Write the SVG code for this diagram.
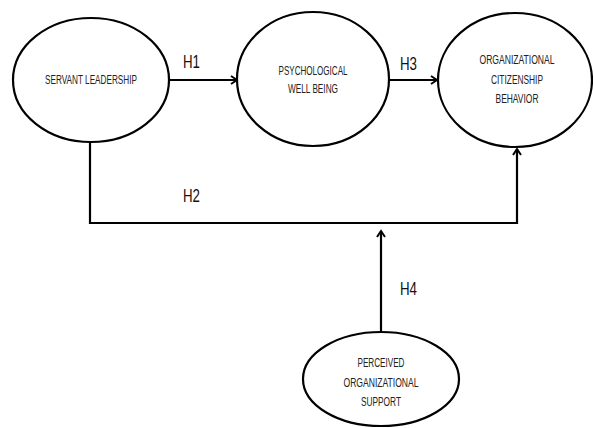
<svg xmlns="http://www.w3.org/2000/svg" width="593" height="428" viewBox="0 0 593 428">
<style>
.node ellipse{fill:#fff;stroke:#000;stroke-width:2.2}
.lbl{font-family:"Liberation Sans",Arial,sans-serif;font-size:12px;fill:#222;text-anchor:middle}
.h{font-family:"Liberation Sans",Arial,sans-serif;font-size:18px;fill:#111}
.conn{fill:none;stroke:#000;stroke-width:2.2}
</style>
<defs>
<marker id="arr" markerWidth="10" markerHeight="10" refX="8" refY="5" orient="auto" markerUnits="userSpaceOnUse">
<path d="M2,1 L8,5 L2,9" fill="none" stroke="#000" stroke-width="2"/>
</marker>
</defs>
<rect width="593" height="428" fill="#fff"/>
<g id="connectors">
<line class="conn" x1="169" y1="80" x2="237" y2="80" marker-end="url(#arr)"/>
<line class="conn" x1="389" y1="80" x2="437" y2="80" marker-end="url(#arr)"/>
<polyline class="conn" points="90,142 90,223 517,223 517,149" marker-end="url(#arr)"/>
<line class="conn" x1="381" y1="332" x2="381" y2="231" marker-end="url(#arr)"/>
<text class="h" x="183" y="68" textLength="17" lengthAdjust="spacingAndGlyphs">H1</text>
<text class="h" x="400" y="70" textLength="17" lengthAdjust="spacingAndGlyphs">H3</text>
<text class="h" x="183" y="202" textLength="17" lengthAdjust="spacingAndGlyphs">H2</text>
<text class="h" x="400" y="295" textLength="17" lengthAdjust="spacingAndGlyphs">H4</text>
</g>
<g id="servant-leadership" class="node">
<ellipse cx="91" cy="80" rx="78" ry="62"/>
<text class="lbl" x="91" y="84" textLength="92" lengthAdjust="spacingAndGlyphs">SERVANT LEADERSHIP</text>
</g>
<g id="psychological-well-being" class="node">
<ellipse cx="313" cy="79" rx="76" ry="67"/>
<text class="lbl" x="313" y="75" textLength="69" lengthAdjust="spacingAndGlyphs">PSYCHOLOGICAL</text>
<text class="lbl" x="313" y="93" textLength="50" lengthAdjust="spacingAndGlyphs">WELL BEING</text>
</g>
<g id="organizational-citizenship-behavior" class="node">
<ellipse cx="515" cy="80" rx="77" ry="67"/>
<text class="lbl" x="517" y="64" textLength="75" lengthAdjust="spacingAndGlyphs">ORGANIZATIONAL</text>
<text class="lbl" x="517" y="84" textLength="52" lengthAdjust="spacingAndGlyphs">CITIZENSHIP</text>
<text class="lbl" x="517" y="103" textLength="43" lengthAdjust="spacingAndGlyphs">BEHAVIOR</text>
</g>
<g id="perceived-organizational-support" class="node">
<ellipse cx="381" cy="379" rx="78" ry="47"/>
<text class="lbl" x="381" y="367" textLength="47" lengthAdjust="spacingAndGlyphs">PERCEIVED</text>
<text class="lbl" x="381" y="387" textLength="75" lengthAdjust="spacingAndGlyphs">ORGANIZATIONAL</text>
<text class="lbl" x="381" y="406" textLength="40" lengthAdjust="spacingAndGlyphs">SUPPORT</text>
</g>
</svg>
